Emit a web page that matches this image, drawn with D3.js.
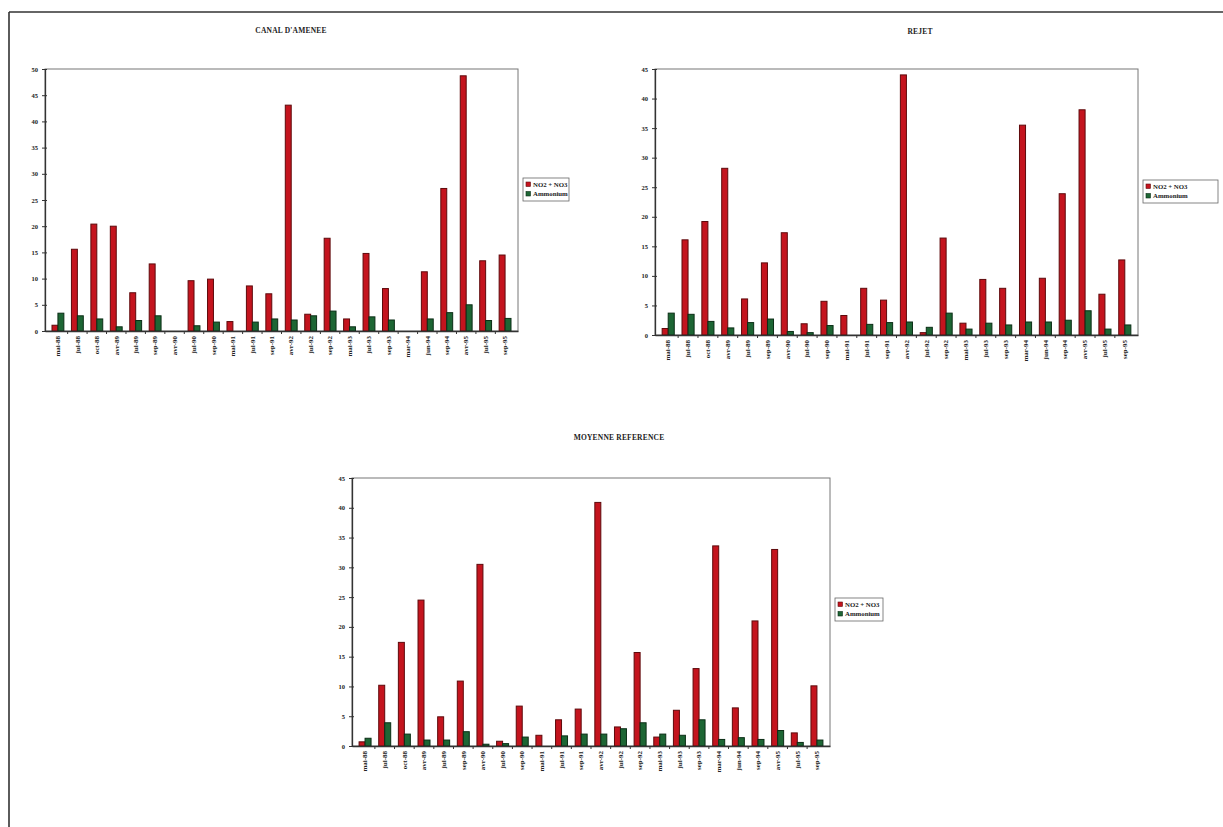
<!DOCTYPE html>
<html>
<head>
<meta charset="utf-8">
<script src="https://cdn.jsdelivr.net/npm/d3@7"></script>
<style>
  html, body { margin: 0; padding: 0; background: #ffffff; }
  svg { display: block; }
  text { font-family: "Liberation Serif", "DejaVu Serif", serif; font-weight: bold; fill: #222; }
</style>
</head>
<body>
<svg id="page" width="1223" height="827"></svg>
<script>
// Sampling campaigns (x-axis categories)
const months = ["mai-88","jul-88","oct-88","avr-89","jul-89","sep-89","avr-90","jul-90","sep-90",
  "mai-91","jul-91","sep-91","avr-92","jul-92","sep-92","mai-93","jul-93","sep-93",
  "mar-94","jun-94","sep-94","avr-95","jul-95","sep-95"];

// Legend labels
const seriesNames = ["NO2 + NO3", "Ammonium"];

// CANAL D'AMENEE
const canalNitrates = [1.1,15.6,20.4,20.0,7.3,12.8,0,9.6,9.9,1.8,8.6,7.1,43.1,3.2,17.7,2.3,14.8,8.1,0,11.3,27.2,48.7,13.4,14.5];
const canalAmmonium = [3.4,2.9,2.3,0.8,2.0,2.9,0,1.0,1.7,0,1.7,2.3,2.1,2.9,3.8,0.8,2.7,2.1,0,2.3,3.5,5.0,2.0,2.4];

// REJET
const rejetNitrates = [1.1,16.1,19.2,28.2,6.1,12.2,17.3,1.9,5.7,3.3,7.9,5.9,44.0,0.4,16.4,2.0,9.4,7.9,35.5,9.6,23.9,38.1,6.9,12.7];
const rejetAmmonium = [3.7,3.5,2.3,1.2,2.1,2.7,0.6,0.4,1.6,0,1.8,2.1,2.2,1.3,3.7,1.0,2.0,1.7,2.2,2.2,2.5,4.1,1.0,1.7];

// MOYENNE REFERENCE
const moyNitrates = [0.7,10.2,17.4,24.5,4.9,10.9,30.5,0.8,6.7,1.8,4.4,6.2,40.9,3.2,15.7,1.5,6.0,13.0,33.6,6.4,21.0,33.0,2.2,10.1];
const moyAmmonium = [1.3,3.9,2.0,1.0,1.0,2.4,0.3,0.4,1.5,0,1.7,2.0,2.0,2.9,3.9,2.0,1.8,4.4,1.1,1.4,1.1,2.6,0.6,1.0];

// Y-axis ranges
const canalMax = 50, rejetMax = 45, moyMax = 45;

const colors = {
  red: "#c4141e", redEdge: "#5e0a0c",
  green: "#1d6634", greenEdge: "#0b2e16"
};

const svg = d3.select("#page");

// Page border (top and left edges)
svg.append("line").attr("x1", 9).attr("y1", 12).attr("x2", 1223).attr("y2", 12)
  .attr("stroke", "#333").attr("stroke-width", 1.6);
svg.append("line").attr("x1", 9).attr("y1", 12).attr("x2", 9).attr("y2", 827)
  .attr("stroke", "#333").attr("stroke-width", 1.6);

function drawChart(opt) {
  const g = svg.append("g");
  const x = d3.scaleBand().domain(months).range([opt.left, opt.right]).paddingInner(0.39).paddingOuter(0.36);
  const y = d3.scaleLinear().domain([0, opt.max]).range([opt.bottom, opt.top]);
  const sub = d3.scaleBand().domain([0, 1]).range([0, x.bandwidth()]);

  // Title
  g.append("text").attr("x", opt.titleX).attr("y", opt.titleY)
    .attr("text-anchor", "middle").style("font-size", "7.5px").style("letter-spacing", "0.2px")
    .text(opt.title);

  // Plot frame
  g.append("rect").attr("x", opt.left).attr("y", opt.top)
    .attr("width", opt.right - opt.left).attr("height", opt.bottom - opt.top)
    .attr("fill", "none").attr("stroke", "#777").attr("stroke-width", 1);

  // Bars
  const series = [
    { vals: opt.nitrates, fill: colors.red, edge: colors.redEdge },
    { vals: opt.ammonium, fill: colors.green, edge: colors.greenEdge }
  ];
  series.forEach((s, i) => {
    g.append("g").selectAll("rect").data(months.map((m, k) => ({ m, v: s.vals[k] })))
      .join("rect")
      .filter(d => d.v > 0)
      .attr("x", d => x(d.m) + sub(i))
      .attr("y", d => y(d.v))
      .attr("width", sub.bandwidth())
      .attr("height", d => y(0) - y(d.v))
      .attr("fill", s.fill)
      .attr("stroke", s.edge)
      .attr("stroke-width", 1);
  });

  // Y axis
  const ya = g.append("g").attr("transform", `translate(${opt.left},0)`)
    .call(d3.axisLeft(y).tickValues(d3.range(0, opt.max + 1, 5)).tickSizeInner(3).tickSizeOuter(0).tickPadding(4));
  ya.select(".domain").attr("stroke", "#333").attr("stroke-width", 1.3);
  ya.selectAll(".tick line").attr("stroke", "#333").attr("x2", -3).attr("x1", 2);
  ya.selectAll(".tick text").style("font-size", "6.5px").style("font-family", "Liberation Serif").style("font-weight", "bold").attr("fill", "#222");

  // X axis
  const xa = g.append("g").attr("transform", `translate(0,${opt.bottom})`)
    .call(d3.axisBottom(x).tickSize(0).tickSizeOuter(0).tickPadding(0));
  xa.select(".domain").attr("stroke", "#333").attr("stroke-width", 1.3);
  xa.selectAll(".tick text")
    .attr("transform", "translate(0,5) rotate(-90)")
    .attr("text-anchor", "end").attr("dy", "0.32em").attr("y", 0).attr("x", 0)
    .style("font-size", "7px").style("font-family", "Liberation Serif").style("font-weight", "bold").attr("fill", "#222");
  // Category separators on the x axis
  const step = x.step();
  xa.append("g").selectAll("line").data(months.slice(1))
    .join("line")
    .attr("x1", d => x(d) - (step - x.bandwidth()) / 2)
    .attr("x2", d => x(d) - (step - x.bandwidth()) / 2)
    .attr("y1", 0).attr("y2", 3).attr("stroke", "#333");

  // Legend
  const lg = g.append("g").attr("transform", `translate(${opt.legendX},${opt.legendY})`);
  lg.append("rect").attr("width", opt.legendW).attr("height", 23)
    .attr("fill", "#fff").attr("stroke", "#666").attr("stroke-width", 0.8);
  seriesNames.forEach((name, i) => {
    lg.append("rect").attr("x", 3).attr("y", 4 + i * 9.5).attr("width", 4.5).attr("height", 4.5)
      .attr("fill", i === 0 ? colors.red : colors.green).attr("stroke", i === 0 ? colors.redEdge : colors.greenEdge).attr("stroke-width", 0.6);
    lg.append("text").attr("x", 10).attr("y", 8.6 + i * 9.5)
      .style("font-size", "6.8px").text(name);
  });
}

drawChart({
  title: "CANAL D'AMENEE", titleX: 291, titleY: 33,
  left: 45, right: 518, top: 69, bottom: 331, max: canalMax,
  nitrates: canalNitrates, ammonium: canalAmmonium,
  legendX: 523, legendY: 178, legendW: 46
});

drawChart({
  title: "REJET", titleX: 920, titleY: 34,
  left: 655, right: 1138, top: 69, bottom: 335, max: rejetMax,
  nitrates: rejetNitrates, ammonium: rejetAmmonium,
  legendX: 1143, legendY: 180, legendW: 75
});

drawChart({
  title: "MOYENNE REFERENCE", titleX: 619, titleY: 440,
  left: 352, right: 830, top: 478, bottom: 746, max: moyMax,
  nitrates: moyNitrates, ammonium: moyAmmonium,
  legendX: 835, legendY: 598, legendW: 48
});
</script>
</body>
</html>
